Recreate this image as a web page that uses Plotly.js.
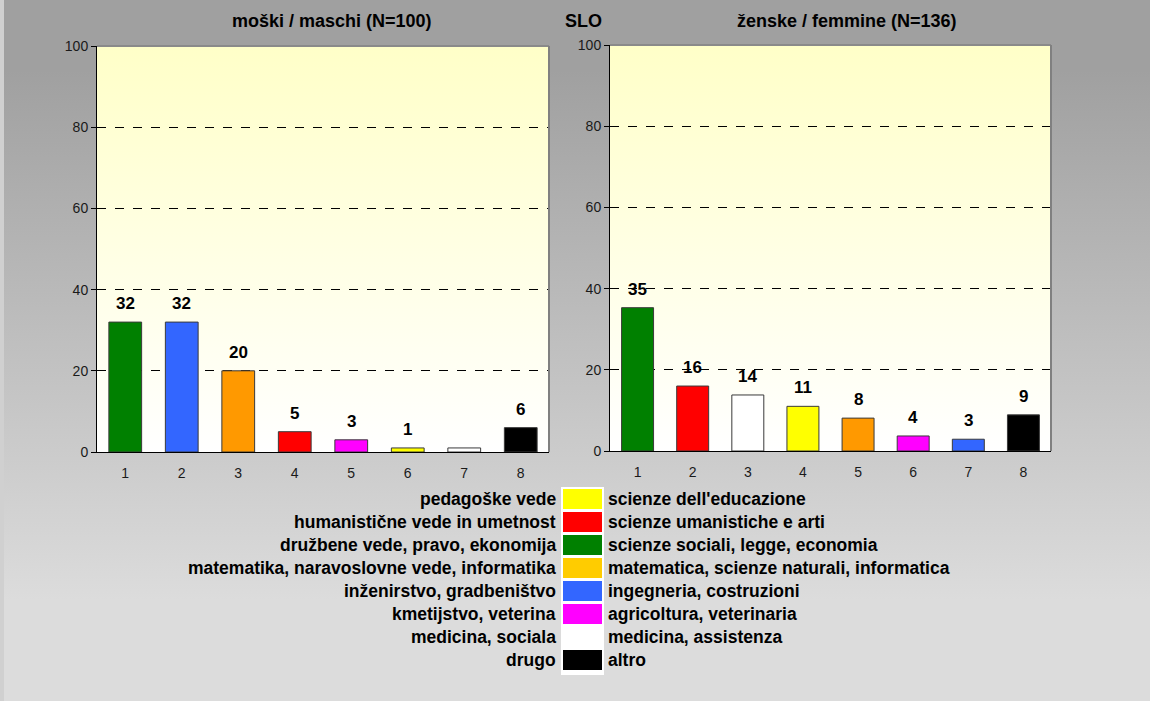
<!DOCTYPE html>
<html><head><meta charset="utf-8">
<script src="https://cdn.plot.ly/plotly-3.0.1.min.js"></script>
<style>
html,body{margin:0;padding:0;}
body{width:1150px;height:701px;overflow:hidden;}
#wrap{position:relative;width:1150px;height:701px;background:linear-gradient(to bottom,#a0a0a0 0px,#a0a0a0 70px,#dcdcdc 600px,#dcdcdc 701px);}
#strip{position:absolute;left:0;top:0;width:4px;height:701px;background:#d0d0d0;}
#chart{position:absolute;left:0;top:0;width:1150px;height:701px;}
</style></head>
<body><div id="wrap"><div id="strip"></div><div id="chart"></div></div>
<script>
// ---- data ----
const categories = [1, 2, 3, 4, 5, 6, 7, 8];
const maleTitle = "moški / maschi (N=100)";
const femaleTitle = "ženske / femmine (N=136)";
const centerTitle = "SLO";
const maleValues = [32, 32, 20, 5, 3, 1, 1, 6];
const maleLabels = ["32", "32", "20", "5", "3", "1", "", "6"];
const maleColors = ["#008000", "#3366ff", "#ff9900", "#ff0000", "#ff00ff", "#ffff00", "#ffffff", "#000000"];
const femaleValues = [35.3, 16, 13.8, 11, 8.1, 3.7, 2.9, 8.9];
const femaleLabels = ["35", "16", "14", "11", "8", "4", "3", "9"];
const femaleColors = ["#008000", "#ff0000", "#ffffff", "#ffff00", "#ff9900", "#ff00ff", "#3366ff", "#000000"];
const yTicks = [0, 20, 40, 60, 80, 100];
const legendSl = ["pedagoške vede", "humanistične vede in umetnost", "družbene vede, pravo, ekonomija", "matematika, naravoslovne vede, informatika", "inženirstvo, gradbeništvo", "kmetijstvo, veterina", "medicina, sociala", "drugo"];
const legendIt = ["scienze dell'educazione", "scienze umanistiche e arti", "scienze sociali, legge, economia", "matematica, scienze naturali, informatica", "ingegneria, costruzioni", "agricoltura, veterinaria", "medicina, assistenza", "altro"];
const legendColors = ["#ffff00", "#ff0000", "#008000", "#ffcc00", "#3366ff", "#ff00ff", "#ffffff", "#000000"];

// ---- styling ----
const W = 1150, H = 701;
const FONT = "Liberation Sans, Arial, sans-serif";
const px = v => v / W;
const py = v => 1 - v / H;

const barLine = {color: "#3a3a3a", width: 1};
const traces = [
  {type: "bar", x: categories, y: maleValues, xaxis: "x", yaxis: "y",
   marker: {color: maleColors, line: barLine}, hoverinfo: "x+y"},
  {type: "bar", x: categories, y: femaleValues, xaxis: "x2", yaxis: "y2",
   marker: {color: femaleColors, line: barLine}, hoverinfo: "x+y"}
];

function xax(domain, anchor) {
  return {domain: domain, anchor: anchor, range: [0.5, 8.5], tickvals: categories,
    ticktext: categories.map(String), showgrid: false, zeroline: false,
    showline: true, linecolor: "#000", linewidth: 1,
    ticks: "outside", ticklen: 8, tickcolor: "rgba(0,0,0,0)",
    tickfont: {family: FONT, size: 14, color: "#1a1a1a"}, fixedrange: true};
}
function yax(domain, anchor) {
  return {domain: domain, anchor: anchor, range: [0, 100], tickvals: yTicks,
    showgrid: true, gridcolor: "#000", griddash: "dash", gridwidth: 1,
    zeroline: false, showline: true, linecolor: "#000", linewidth: 1,
    ticks: "outside", ticklen: 5, tickcolor: "#000",
    tickfont: {family: FONT, size: 14, color: "#1a1a1a"}, fixedrange: true};
}

const gradSvg = '<svg xmlns="http://www.w3.org/2000/svg" width="10" height="100" preserveAspectRatio="none"><defs><linearGradient id="g" x1="0" y1="0" x2="0" y2="1"><stop offset="0" stop-color="#ffffc8"/><stop offset="1" stop-color="#ffffff"/></linearGradient></defs><rect width="10" height="100" fill="url(#g)"/></svg>';
const gradUri = "data:image/svg+xml;utf8," + encodeURIComponent(gradSvg);

const images = ["", "2"].map(s => ({source: gradUri, xref: "x" + s, yref: "y" + s,
  x: 0.5, y: 100, sizex: 8, sizey: 100, sizing: "stretch", xanchor: "left", yanchor: "top", layer: "below"}));

const shapes = [];
["", "2"].forEach(s => {
  shapes.push({type: "line", xref: "x" + s + " domain", yref: "y" + s + " domain", x0: 0, x1: 1, y0: 1, y1: 1, line: {color: "#8a8a8a", width: 2}});
  shapes.push({type: "line", xref: "x" + s + " domain", yref: "y" + s + " domain", x0: 1, x1: 1, y0: 0, y1: 1, line: {color: "#808080", width: 2}});
});

const annotations = [];
const labelFont = {family: FONT, size: 17, color: "#000"};
categories.forEach((c, i) => {
  if (maleLabels[i]) annotations.push({x: c, y: maleValues[i], xref: "x", yref: "y", text: "<b>" + maleLabels[i] + "</b>",
    showarrow: false, xanchor: "center", yanchor: "bottom", yshift: 7, font: labelFont});
  if (femaleLabels[i]) annotations.push({x: c, y: femaleValues[i], xref: "x2", yref: "y2", text: "<b>" + femaleLabels[i] + "</b>",
    showarrow: false, xanchor: "center", yanchor: "bottom", yshift: 7, font: labelFont});
});
const titleFont = {family: FONT, size: 18, color: "#000"};
[[maleTitle, 332], [centerTitle, 583], [femaleTitle, 847]].forEach(([t, x]) => {
  annotations.push({xref: "paper", yref: "paper", x: px(x), y: py(21), xanchor: "center", yanchor: "middle",
    text: "<b>" + t + "</b>", showarrow: false, font: titleFont});
});

// legend block
const legFont = {family: FONT, size: 17.5, color: "#000"};
const rowTop = 487, rowH = 23;
shapes.push({type: "rect", xref: "paper", yref: "paper", x0: px(561), x1: px(604), y0: py(rowTop), y1: py(rowTop + rowH * legendSl.length + 4),
  fillcolor: "#ffffff", line: {width: 0}, layer: "above"});
legendSl.forEach((t, i) => {
  const cy = rowTop + 12 + rowH * i;
  shapes.push({type: "rect", xref: "paper", yref: "paper", x0: px(563), x1: px(602), y0: py(cy - 10), y1: py(cy + 10),
    fillcolor: legendColors[i], line: {width: 0}, layer: "above"});
  annotations.push({xref: "paper", yref: "paper", x: px(558), y: py(cy), xanchor: "right", yanchor: "middle",
    text: "<b>" + t + "</b>", showarrow: false, font: legFont});
  annotations.push({xref: "paper", yref: "paper", x: px(606), y: py(cy), xanchor: "left", yanchor: "middle",
    text: "<b>" + legendIt[i] + "</b>", showarrow: false, font: legFont});
});

const layout = {
  width: W, height: H, margin: {l: 0, r: 0, t: 0, b: 0},
  paper_bgcolor: "rgba(0,0,0,0)", plot_bgcolor: "rgba(0,0,0,0)",
  showlegend: false, bargap: 0.42,
  font: {family: FONT},
  xaxis: xax([px(97), px(549)], "y"),
  yaxis: yax([1 - 452 / H, 1 - 46 / H], "x"),
  xaxis2: xax([px(610), px(1051)], "y2"),
  yaxis2: yax([1 - 451 / H, 1 - 45 / H], "x2"),
  images: images, shapes: shapes, annotations: annotations
};
Plotly.newPlot("chart", traces, layout, {displayModeBar: false, staticPlot: true});
</script></body></html>
